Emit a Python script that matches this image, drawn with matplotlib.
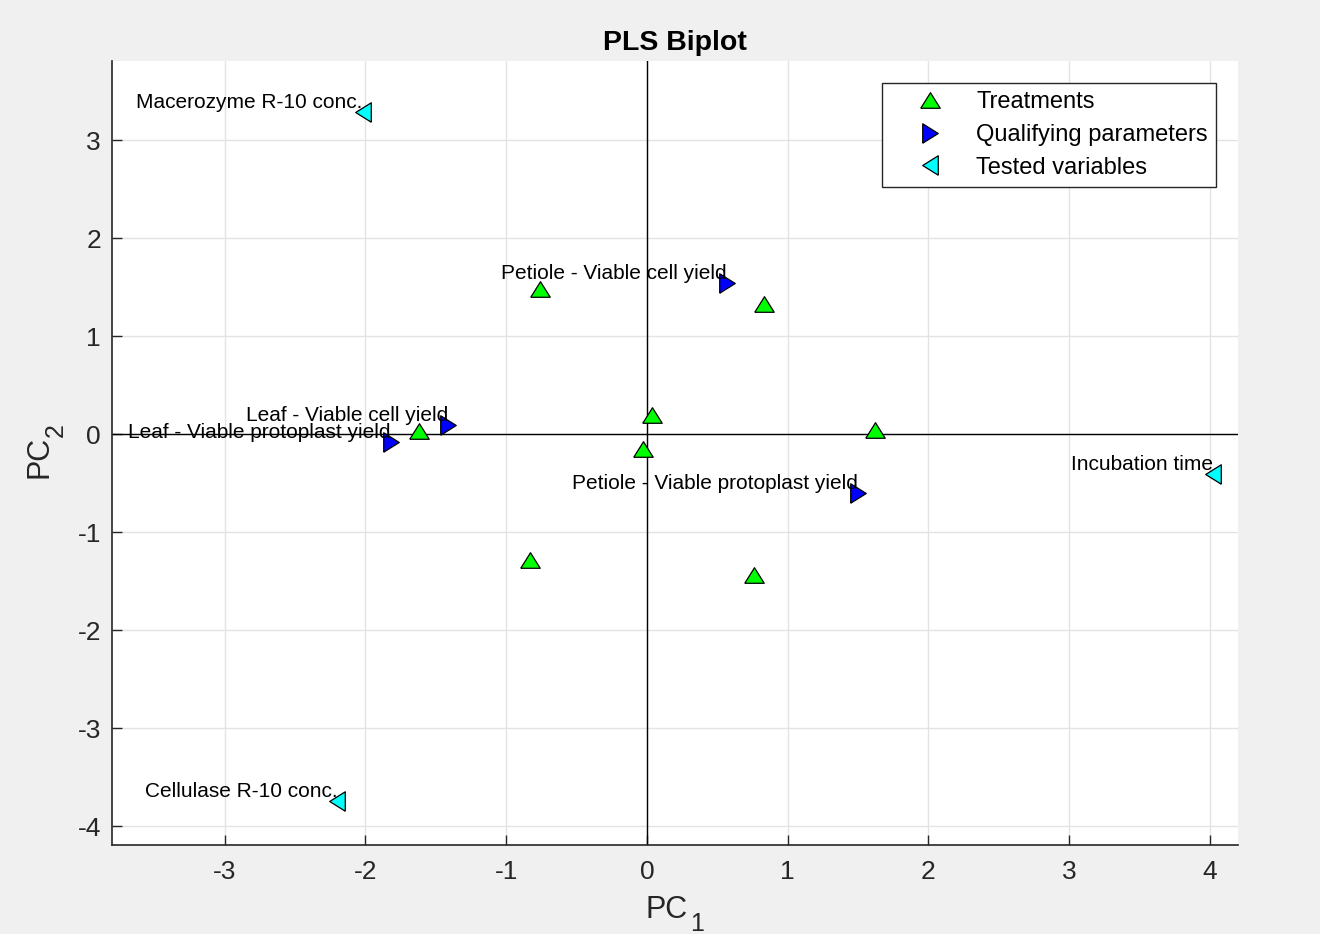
import matplotlib
matplotlib.use("Agg")
import matplotlib.pyplot as plt
import numpy as np

plt.rcParams['font.family'] = ['Liberation Sans', 'DejaVu Sans']
plt.rcParams['axes.unicode_minus'] = False

# Treatments (scores)
treat_x = [-0.76, 0.83, 0.04, -0.03, -1.62, 1.62, -0.83, 0.76]
treat_y = [1.48, 1.33, 0.20, -0.15, 0.03, 0.04, -1.28, -1.44]

# Qualifying parameters (responses)
qual_names = ['Petiole - Viable cell yield', 'Leaf - Viable cell yield',
              'Leaf - Viable protoplast yield', 'Petiole - Viable protoplast yield']
qual_x = [0.57, -1.41, -1.82, 1.50]
qual_y = [1.54, 0.10, -0.08, -0.60]

# Tested variables (predictors)
var_names = ['Macerozyme R-10 conc.', 'Cellulase R-10 conc.', 'Incubation time']
var_x = [-2.02, -2.20, 4.02]
var_y = [3.29, -3.74, -0.40]

dark = '#262626'
W, H = 1320, 934

# MATLAB-like triangles: wider base than height
up_tri = [(-1, -0.8), (1, -0.8), (0, 0.8), (-1, -0.8)]
right_tri = [(-0.8, -1), (0.8, 0), (-0.8, 1), (-0.8, -1)]
left_tri = [(0.8, -1), (-0.8, 0), (0.8, 1), (0.8, -1)]

fig = plt.figure(figsize=(W / 100, H / 100), dpi=100, facecolor='#f0f0f0')
ax = fig.add_axes([112 / W, 1 - 845 / H, (1238 - 112) / W, (845 - 61) / H])
ax.set_facecolor('white')

ax.axhline(0, color='black', lw=1.0, zorder=2)
ax.axvline(0, color='black', lw=1.0, zorder=2)

ax.plot(treat_x, treat_y, ls='none', marker=up_tri, ms=14, mfc=(0, 1, 0),
        mec='black', mew=0.9, label='Treatments', zorder=3)
ax.plot(qual_x, qual_y, ls='none', marker=right_tri, ms=14, mfc=(0, 0, 1),
        mec='black', mew=0.9, label='Qualifying parameters', zorder=3)
ax.plot(var_x, var_y, ls='none', marker=left_tri, ms=14, mfc=(0, 1, 1),
        mec='black', mew=0.9, label='Tested variables', zorder=3)

for name, x, y in zip(qual_names + var_names, qual_x + var_x, qual_y + var_y):
    ax.text(x, y, name, ha='right', va='bottom', fontsize=15, color='black', zorder=4)

ax.set_xlim(-3.8, 4.2)
ax.set_ylim(-4.19, 3.81)
ax.set_xticks(np.arange(-3, 5, 1))
ax.set_yticks(np.arange(-4, 4, 1))
ax.grid(True, color='#e3e3e3', lw=1.0, zorder=0)
ax.set_axisbelow(True)

for s in ['top', 'right']:
    ax.spines[s].set_visible(False)
for s in ['left', 'bottom']:
    ax.spines[s].set_color(dark)
    ax.spines[s].set_linewidth(1.2)
ax.tick_params(direction='in', length=7, width=1.0, colors=dark, labelsize=19)
ax.tick_params(axis='x', pad=11)
ax.tick_params(axis='y', pad=8)

ax.set_title('PLS Biplot', fontsize=20.5, fontweight='bold', pad=8)

# axis labels with MATLAB-style low subscripts
fig.text(646 / W, 1 - 918 / H, 'PC', fontsize=22, color=dark,
         ha='left', va='baseline')
fig.text(690 / W, 1 - 931 / H, '1', fontsize=18, color=dark,
         ha='left', va='baseline')
fig.text(48 / W, 1 - 478 / H, 'PC', fontsize=22, color=dark, rotation=90,
         rotation_mode='anchor', ha='left', va='baseline')
fig.text(63 / W, 1 - 437 / H, '2', fontsize=18, color=dark, rotation=90,
         rotation_mode='anchor', ha='left', va='baseline')

leg = ax.legend(loc='upper right', bbox_to_anchor=(1216 / W, 1 - 83 / H),
                bbox_transform=fig.transFigure, fontsize=17, frameon=True,
                fancybox=False, edgecolor=dark, framealpha=1, borderpad=0.35,
                labelspacing=0.45, handlelength=3.4, handletextpad=0.25,
                borderaxespad=0)
leg.get_frame().set_linewidth(1.0)

fig.savefig('out.png', dpi=100, facecolor=fig.get_facecolor())
